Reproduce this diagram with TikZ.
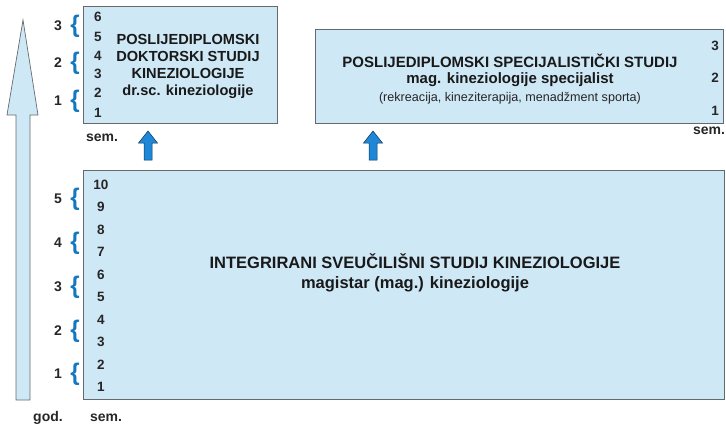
\documentclass[tikz,border=0pt]{standalone}
\usepackage{fontspec}
\setmainfont{Liberation Sans}
\definecolor{boxfill}{RGB}{207,232,246}
\definecolor{boxline}{RGB}{100,105,110}
\definecolor{brace}{RGB}{20,120,190}
\definecolor{arrowblue}{RGB}{30,135,215}
\tikzset{
  x=1pt,y=-1pt,
  prog/.style={draw=boxline,line width=0.9pt,fill=boxfill},
  title/.style={font=\fontsize{14.6}{18}\selectfont\bfseries,align=center,text=black!90},
  sub/.style={font=\fontsize{12.6}{14}\selectfont,text=black!85},
  num/.style={font=\fontsize{13.5}{15}\selectfont\bfseries,text=black!85,inner sep=0pt},
  br/.style={font=\fontsize{24}{24}\selectfont\bfseries,text=brace,inner sep=0pt},
  lab/.style={font=\fontsize{14}{16}\selectfont\bfseries,text=black!85,inner sep=0pt},
  uparrow/.style={fill=arrowblue,draw=black!60!arrowblue,line width=0.5pt},
}
\begin{document}
\begin{tikzpicture}
\useasboundingbox (0,0) rectangle (726,426);
% big time arrow
\draw[prog,line width=0.7pt] (16,400) -- (16,115) -- (7,115) -- (23,20) -- (38,115) -- (30,115) -- (30,400) -- cycle;
% boxes
\draw[prog] (83,6) rectangle (277,123);
\draw[prog] (315,29) rectangle (723,123);
\draw[prog] (83,170) rectangle (724,399);
% doctoral text
\node[title] (dok) at (188,66) {POSLIJEDIPLOMSKI\\[-1pt]DOKTORSKI STUDIJ\\[-1pt]KINEZIOLOGIJE\\[-1pt]dr.sc. kineziologije};
% specialist text
\node[title,font=\fontsize{15}{18}\selectfont\bfseries] (spec) at (510,70) {POSLIJEDIPLOMSKI SPECIJALISTIČKI STUDIJ\\[-2pt]mag. kineziologije specijalist};
\node[sub] (specsub) at (510,98) {(rekreacija, kineziterapija, menadžment sporta)};
% integrated text
\node[title,font=\fontsize{16.5}{18}\selectfont\bfseries] (int) at (415,261) {INTEGRIRANI SVEUČILIŠNI STUDIJ KINEZIOLOGIJE};
\node[title,font=\fontsize{16.5}{18}\selectfont\bfseries] (mag) at (415,284) {magistar (mag.) kineziologije};
% doctoral semesters
\foreach \s/\y in {6/17,5/37,4/56,3/74,2/93,1/113}{
  \node[num] (d\s) at (98,\y) {\s};
}
\foreach \g/\y in {3/26,2/63,1/101}{
  \node[lab] (dg\g) at (58,\y) {\g};
  \node[br] (db\g) at (75,\y) {\{};
}
\node[lab] (dsem) at (102,138) {sem.};
% specialist semesters
\foreach \s/\y in {3/46,2/78,1/111}{
  \node[num] (s\s) at (715,\y) {\s};
}
\node[lab] (ssem) at (709,131) {sem.};
% integrated semesters
\foreach \s/\y in {10/185,9/207,8/230,7/252,6/275,5/297,4/320,3/342,2/365,1/387}{
  \node[num] (i\s) at (101,\y) {\s};
}
\foreach \g/\y in {5/199,4/243,3/287,2/331,1/374}{
  \node[lab] (ig\g) at (58,\y) {\g};
  \node[br] (ib\g) at (75,\y) {\{};
}
\node[lab] (god) at (48,418) {god.};
\node[lab] (isem) at (106,418) {sem.};
% small blue arrows
\foreach \x in {148,373}{
  \draw[uparrow] (\x-4,160) -- (\x-4,143) -- (\x-9.5,143) -- (\x,131) -- (\x+9.5,143) -- (\x+4,143) -- (\x+4,160) -- cycle;
}
\end{tikzpicture}
\end{document}
